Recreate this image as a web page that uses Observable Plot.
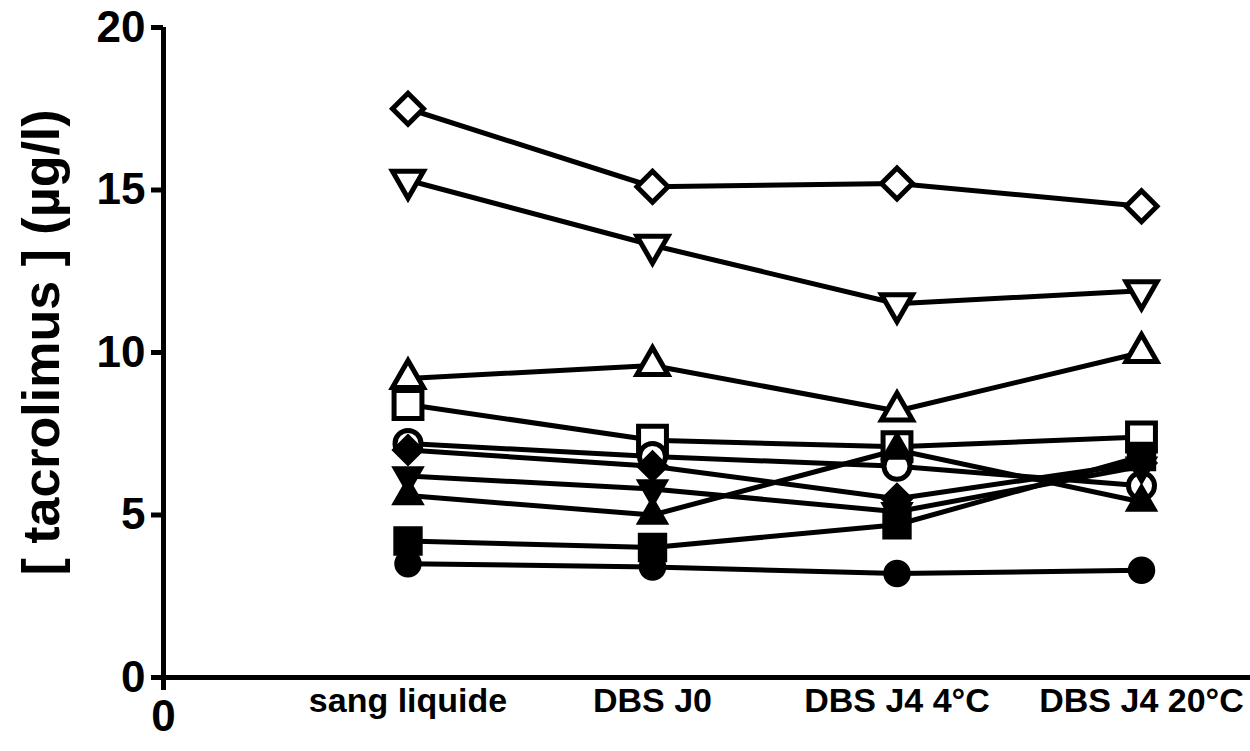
<!DOCTYPE html>
<html><head><meta charset="utf-8">
<script src="https://cdn.jsdelivr.net/npm/d3@7"></script>
<script src="https://cdn.jsdelivr.net/npm/@observablehq/plot@0.6"></script>
<style>body{margin:0;background:#fff;} svg{display:block}</style>
</head><body><div id="chart"></div>
<script>
const categories = ["sang liquide", "DBS J0", "DBS J4 4°C", "DBS J4 20°C"];
const yTicks = [0, 5, 10, 15, 20];
const yLabel = "[ tacrolimus ] (µg/l)";

// one patient per series
const openDiamond    = [17.5, 15.1, 15.2, 14.5];
const openTriDown    = [15.3, 13.3, 11.5, 11.9];
const openTriUp      = [9.2, 9.6, 8.2, 10.0];
const openSquare     = [8.4, 7.3, 7.1, 7.4];
const openCircle     = [7.2, 6.8, 6.5, 5.9];
const filledDiamond  = [7.0, 6.5, 5.5, 6.6];
const filledTriDown  = [6.2, 5.8, 5.1, 6.5];
const filledTriUp    = [5.6, 5.0, 7.0, 5.4];
const filledSquare   = [4.2, 4.0, 4.7, 6.8];
const filledCircle   = [3.5, 3.4, 3.2, 3.3];

const series = [
  {values: openDiamond,   symbol: "diamond2", filled: false, rotate: 0},
  {values: openTriDown,   symbol: "triangle", filled: false, rotate: 180},
  {values: openTriUp,     symbol: "triangle", filled: false, rotate: 0},
  {values: openSquare,    symbol: "square",   filled: false, rotate: 0},
  {values: openCircle,    symbol: "circle",   filled: false, rotate: 0},
  {values: filledDiamond, symbol: "diamond2", filled: true,  rotate: 0},
  {values: filledTriDown, symbol: "triangle", filled: true,  rotate: 180},
  {values: filledTriUp,   symbol: "triangle", filled: true,  rotate: 0},
  {values: filledSquare,  symbol: "square",   filled: true,  rotate: 0},
  {values: filledCircle,  symbol: "circle",   filled: true,  rotate: 0}
];
const symbolR = {diamond2: 14, triangle: 11.5, square: 8.5, circle: 13};

const rows = series.map((s, k) => s.values.map((v, i) => ({k, x: i + 1, category: categories[i], y: v})));

const font = "'Liberation Sans', Arial, sans-serif";
const marks = [];
marks.push(Plot.ruleY([0], {stroke: "black", strokeWidth: 5}));
marks.push(Plot.ruleX([0], {y1: 20, y2: -0.4, stroke: "black", strokeWidth: 5}));
marks.push(Plot.axisY({ticks: yTicks, tickSize: 12, tickPadding: 6, fontSize: 44, fontWeight: "bold", strokeWidth: 5, label: null, tickFormat: d3.format("d")}));
marks.push(Plot.axisX({ticks: [0], tickFormat: d3.format("d"), tickSize: 0, tickPadding: 22, fontSize: 44, fontWeight: "bold", label: null}));
marks.push(Plot.axisX({ticks: [1, 2, 3, 4], tickFormat: d => categories[d - 1], tickSize: 0, tickPadding: 10, fontSize: 34, fontWeight: "bold", label: null}));
marks.push(Plot.text([yLabel], {text: d => d, frameAnchor: "left", dx: -121, dy: -10, rotate: -90, fontSize: 52, fontWeight: "bold", textAnchor: "middle", lineAnchor: "middle"}));
rows.forEach(r => marks.push(Plot.line(r, {x: "x", y: "y", stroke: "black", strokeWidth: 5})));
rows.forEach((r, k) => {
  const s = series[k];
  marks.push(Plot.dot(r, {
    x: "x", y: "y", symbol: () => s.symbol, r: symbolR[s.symbol] * (s.symbol === "square" ? 1.85 : 1),
    rotate: s.rotate,
    fill: s.filled ? "black" : "white", stroke: "black", strokeWidth: s.filled ? 1.5 : 5
  }));
});

const chart = Plot.plot({
  width: 1250, height: 751,
  marginLeft: 163, marginRight: 0, marginTop: 27, marginBottom: 74,
  style: {fontFamily: font, color: "black", background: "white"},
  x: {type: "linear", domain: [0, 1087 / 244.5], axis: null},
  y: {domain: [0, 20], axis: null},
  symbol: {type: "identity"},
  marks
});
document.getElementById("chart").appendChild(chart);
</script>
</body></html>
